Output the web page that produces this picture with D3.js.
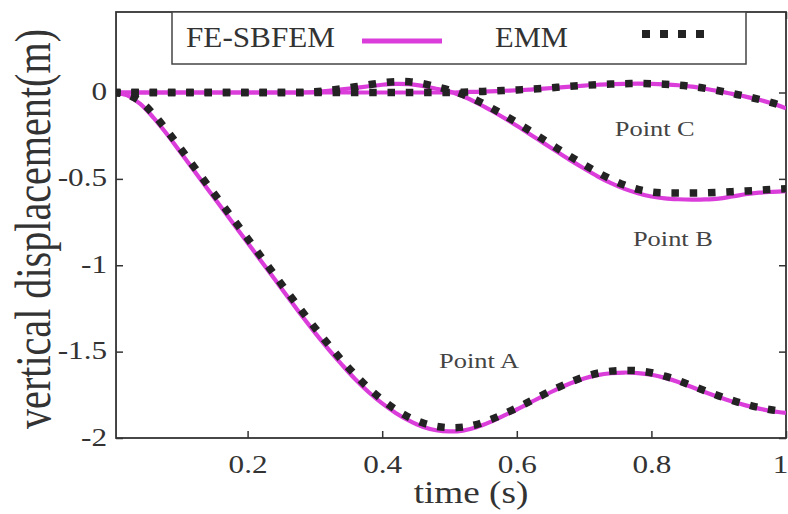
<!DOCTYPE html>
<html><head><meta charset="utf-8">
<script src="https://cdn.jsdelivr.net/npm/d3@7"></script>
<style>html,body{margin:0;padding:0;background:#fff;} svg{display:block;}</style>
</head><body><svg id="c" width="788" height="514"></svg>
<script>
// ---- data ----
const time = [0,0.02,0.04,0.06,0.08,0.10,0.12,0.14,0.16,0.18,0.20,0.22,0.24,0.26,0.28,0.30,0.32,0.34,0.36,0.38,0.40,0.42,0.44,0.46,0.48,0.50,0.52,0.54,0.56,0.58,0.60,0.62,0.64,0.66,0.68,0.70,0.72,0.74,0.76,0.78,0.80,0.82,0.84,0.86,0.88,0.90,0.92,0.94,0.96,0.98,1.00];

const pointA_FE = [0,-0.015,-0.065,-0.145,-0.24,-0.345,-0.45,-0.555,-0.66,-0.765,-0.87,-0.975,-1.08,-1.185,-1.29,-1.39,-1.485,-1.575,-1.66,-1.735,-1.8,-1.855,-1.9,-1.935,-1.955,-1.962,-1.957,-1.938,-1.908,-1.872,-1.835,-1.795,-1.755,-1.717,-1.683,-1.655,-1.636,-1.625,-1.621,-1.624,-1.634,-1.652,-1.676,-1.705,-1.735,-1.763,-1.789,-1.811,-1.83,-1.845,-1.855];
const pointA_EMM = [0,-0.012,-0.05,-0.125,-0.22,-0.322,-0.428,-0.532,-0.636,-0.74,-0.845,-0.95,-1.055,-1.16,-1.262,-1.362,-1.458,-1.55,-1.635,-1.712,-1.778,-1.835,-1.88,-1.912,-1.932,-1.94,-1.937,-1.922,-1.895,-1.862,-1.826,-1.787,-1.748,-1.71,-1.676,-1.646,-1.625,-1.613,-1.609,-1.611,-1.622,-1.642,-1.667,-1.697,-1.727,-1.756,-1.782,-1.805,-1.824,-1.838,-1.848];

const pointB_FE = [0,0,0,0,0,0,0,0,0,0,0,0,0,0,0,0.003,0.01,0.018,0.027,0.036,0.045,0.05,0.048,0.038,0.022,0.006,-0.022,-0.058,-0.1,-0.145,-0.193,-0.243,-0.293,-0.343,-0.393,-0.44,-0.485,-0.525,-0.558,-0.583,-0.602,-0.613,-0.618,-0.62,-0.619,-0.614,-0.602,-0.589,-0.58,-0.575,-0.571];
const pointB_EMM = [0,0,0,0,0,0,0,0,0,0,0,0,0,0,0,0.004,0.012,0.022,0.033,0.045,0.056,0.063,0.062,0.052,0.034,0.014,-0.012,-0.045,-0.085,-0.128,-0.174,-0.223,-0.273,-0.323,-0.371,-0.418,-0.462,-0.502,-0.536,-0.561,-0.576,-0.581,-0.582,-0.582,-0.581,-0.578,-0.574,-0.57,-0.566,-0.561,-0.557];

const pointC_FE = [0,0,0,0,0,0,0,0,0,0,0,0,0,0,0,0,0,0,0,0,0,0,0,0,0,0,0.002,0.004,0.007,0.01,0.013,0.017,0.022,0.028,0.034,0.04,0.045,0.048,0.05,0.051,0.05,0.047,0.042,0.034,0.022,0.008,-0.008,-0.024,-0.042,-0.064,-0.092];
const pointC_EMM = [0,0,0,0,0,0,0,0,0,0,0,0,0,0,0,0,0,0,0,0,0,0,0,0,0,0,0.002,0.005,0.008,0.011,0.015,0.019,0.024,0.03,0.036,0.041,0.046,0.049,0.051,0.052,0.051,0.048,0.043,0.035,0.024,0.01,-0.006,-0.022,-0.04,-0.06,-0.085];

const xTicks = [0.2,0.4,0.6,0.8,1];
const xTickLabels = ["0.2","0.4","0.6","0.8","1"];
const yTicks = [0,-0.5,-1,-1.5,-2];
const yTickLabels = ["0","-0.5","-1","-1.5","-2"];
const legendNames = ["FE-SBFEM","EMM"];
const pointNames = ["Point A","Point B","Point C"];
const xTitle = "time (s)";
const yTitle = "vertical displacement(m)";

// ---- drawing ----
const FONT = "'Times New Roman', Times, Tinos, serif";
const PINK = "#db3ddb";
const DOT = "#232323";
const svg = d3.select("#c");

const x = d3.scaleLinear().domain([0,1]).range([113,786]);
const y = d3.scaleLinear().domain([-2,0.466]).range([438,12]);
const pL = x(0.0045), pR = x(1), pT = y(0.466), pB = y(-2);

svg.append("defs").append("clipPath").attr("id","clip")
  .append("rect").attr("x",pL).attr("y",pT).attr("width",pR-pL).attr("height",pB-pT);

function styleAxis(g){
  g.select(".domain").remove();
  g.selectAll(".tick line").attr("stroke","#333").attr("stroke-width",1.5);
}
const gB = svg.append("g").attr("transform",`translate(0,${pB})`)
  .call(d3.axisBottom(x).tickValues(xTicks).tickFormat((d,i)=>xTickLabels[i]).tickSizeInner(-7).tickSizeOuter(0));
styleAxis(gB);
gB.selectAll(".tick text").attr("y",35).attr("dy",null)
  .attr("font-family",FONT).attr("font-size",26).attr("fill","#333")
  .attr("transform","scale(1.2,1)");
// last label sits at the right edge; keep it inside the picture
gB.selectAll(".tick text").filter(d=>d===1).attr("text-anchor","end").attr("x",1.5);

const gL = svg.append("g").attr("transform",`translate(${pL},0)`)
  .call(d3.axisLeft(y).tickValues(yTicks).tickFormat((d,i)=>yTickLabels[i]).tickSizeInner(-7).tickSizeOuter(0));
styleAxis(gL);
gL.selectAll(".tick text").attr("x",-7.5).attr("dy","0.27em")
  .attr("font-family",FONT).attr("font-size",26).attr("fill","#333")
  .attr("transform","scale(1.2,1)");

const gT = svg.append("g").attr("transform",`translate(0,${pT})`)
  .call(d3.axisTop(x).tickValues(xTicks).tickFormat("").tickSizeInner(-7).tickSizeOuter(0));
styleAxis(gT);
const gR = svg.append("g").attr("transform",`translate(${pR},0)`)
  .call(d3.axisRight(y).tickValues(yTicks).tickFormat("").tickSizeInner(-7).tickSizeOuter(0));
styleAxis(gR);

svg.append("rect").attr("x",pL).attr("y",pT).attr("width",pR-pL).attr("height",pB-pT)
  .attr("fill","none").attr("stroke","#333").attr("stroke-width",1.8);

const line = d3.line().x((d,i)=>x(time[i])).y(d=>y(d)).curve(d3.curveCatmullRom);
const plot = svg.append("g").attr("clip-path","url(#clip)");
[pointA_FE,pointB_FE,pointC_FE].forEach(s=>{
  plot.append("path").attr("d",line(s)).attr("fill","none").attr("stroke",PINK)
    .attr("stroke-width",4.2).attr("stroke-linejoin","round");
});
[pointA_EMM,pointB_EMM,pointC_EMM].forEach(s=>{
  plot.append("path").attr("d",line(s)).attr("fill","none").attr("stroke",DOT)
    .attr("stroke-width",7.5).attr("stroke-dasharray","7.5 10.8");
});

const labelPos = [[0.544,-1.594],[0.832,-0.887],[0.805,-0.249]];
pointNames.forEach((n,i)=>{
  svg.append("text").text(n)
    .attr("x",x(labelPos[i][0])).attr("y",y(labelPos[i][1]))
    .attr("text-anchor","middle").attr("font-family",FONT).attr("font-size",21)
    .attr("fill","#444").attr("textLength",80).attr("lengthAdjust","spacingAndGlyphs");
});

const lg = svg.append("g");
lg.append("rect").attr("x",172).attr("y",pT).attr("width",574).attr("height",52)
  .attr("fill","#fff").attr("stroke","#444").attr("stroke-width",1.5);
lg.append("text").text(legendNames[0]).attr("x",186).attr("y",47)
  .attr("font-family",FONT).attr("font-size",30).attr("fill","#333")
  .attr("textLength",149).attr("lengthAdjust","spacingAndGlyphs");
lg.append("line").attr("x1",362).attr("x2",442).attr("y1",41).attr("y2",41)
  .attr("stroke",PINK).attr("stroke-width",5);
lg.append("text").text(legendNames[1]).attr("x",495).attr("y",47)
  .attr("font-family",FONT).attr("font-size",30).attr("fill","#333")
  .attr("textLength",73).attr("lengthAdjust","spacingAndGlyphs");
lg.append("line").attr("x1",642).attr("x2",706).attr("y1",34).attr("y2",34)
  .attr("stroke",DOT).attr("stroke-width",8).attr("stroke-dasharray","8 10");

svg.append("text").text(xTitle)
  .attr("transform","translate(471,503) scale(1.2,1)")
  .attr("text-anchor","middle").attr("font-family",FONT).attr("font-size",31).attr("fill","#333");
svg.append("text").text(yTitle)
  .attr("transform","translate(50,229) scale(1.25,1) rotate(-90)")
  .attr("text-anchor","middle").attr("font-family",FONT).attr("font-size",40).attr("fill","#333")
  .attr("textLength",400).attr("lengthAdjust","spacingAndGlyphs");
</script></body></html>
